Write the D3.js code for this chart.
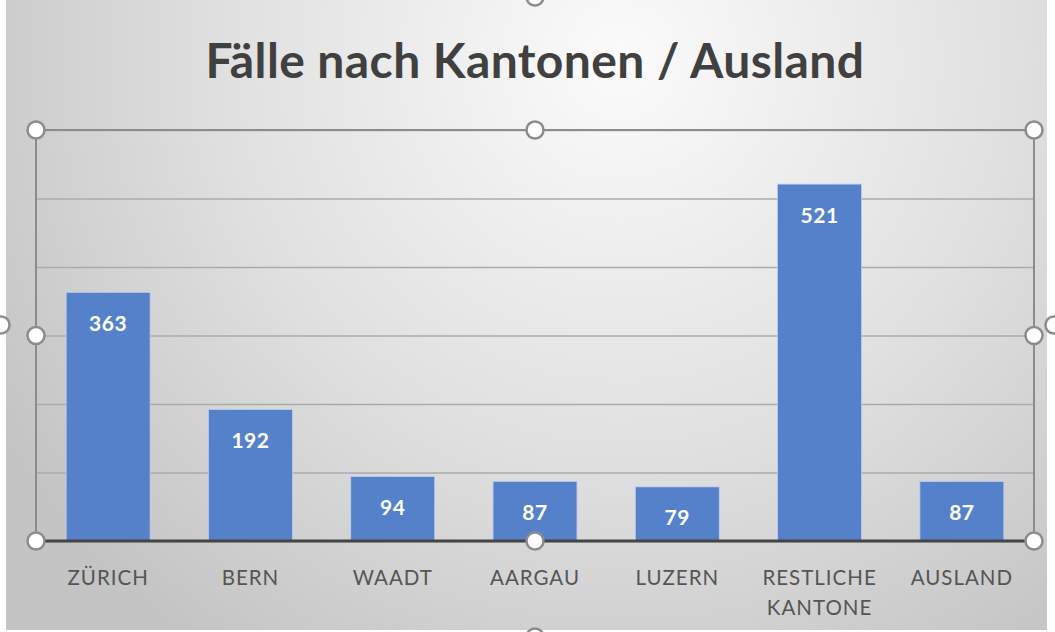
<!DOCTYPE html>
<html>
<head>
<meta charset="utf-8">
<script src="https://cdn.jsdelivr.net/npm/d3@7"></script>
<style>
  body { margin: 0; background: #ffffff; }
  svg { display: block; }
</style>
</head>
<body>
<div id="chart"></div>
<script>
// data
var categories = ["ZÜRICH", "BERN", "WAADT", "AARGAU", "LUZERN", "RESTLICHE KANTONE", "AUSLAND"];
var cases = [363, 192, 94, 87, 79, 521, 87];
var yTicks = [0, 100, 200, 300, 400, 500, 600];

var width = 1055,
    height = 632;

// plot area (the selected frame)
var plot = { left: 37, right: 1033, top: 130, bottom: 541 };

var svg = d3.select("#chart").append("svg")
    .attr("width", width)
    .attr("height", height);

// background gradient like the office chart style
var defs = svg.append("defs");
var grad = defs.append("radialGradient")
    .attr("id", "bg")
    .attr("gradientUnits", "userSpaceOnUse")
    .attr("cx", 620).attr("cy", 60)
    .attr("r", 720);
grad.append("stop").attr("offset", "0%").attr("stop-color", "#fbfbfb");
grad.append("stop").attr("offset", "55%").attr("stop-color", "#e0e0e0");
grad.append("stop").attr("offset", "100%").attr("stop-color", "#c4c4c4");

svg.append("rect")
    .attr("x", 6).attr("y", 0)
    .attr("width", 1041).attr("height", 630)
    .attr("fill", "url(#bg)");

// title
svg.append("text")
    .attr("x", 535)
    .attr("y", 78)
    .attr("text-anchor", "middle")
    .style("font-family", "Lato, 'Open Sans', sans-serif")
    .style("font-weight", "bold")
    .style("font-size", "48px")
    .style("letter-spacing", "0.4px")
    .style("fill", "#404040")
    .text("Fälle nach Kantonen / Ausland");

// scales
var x = d3.scaleBand()
    .domain(categories)
    .range([plot.left, plot.right])
    .paddingInner(0.41)
    .paddingOuter(0.205);

var y = d3.scaleLinear()
    .domain([0, 600])
    .range([plot.bottom, plot.top]);

// gridlines
var grid = svg.append("g")
    .attr("transform", "translate(" + plot.left + ",0)")
    .call(d3.axisLeft(y).tickValues(yTicks).tickSize(-(plot.right - plot.left)).tickFormat(""));
grid.select(".domain").remove();
grid.selectAll("line")
    .attr("stroke", "#ababab")
    .attr("stroke-width", 1.3);

// bars
svg.selectAll(".bar")
    .data(cases)
    .enter()
    .append("rect")
    .attr("class", "bar")
    .attr("x", function(d, i) { return x(categories[i]); })
    .attr("y", function(d) { return y(d); })
    .attr("width", x.bandwidth())
    .attr("height", function(d) { return y(0) - y(d); })
    .attr("fill", "#5581ca")
    .attr("stroke", "#b9cdee")
    .attr("stroke-width", 0.8);

// value labels inside the bars
svg.selectAll(".val")
    .data(cases)
    .enter()
    .append("text")
    .attr("class", "val")
    .attr("x", function(d, i) { return x(categories[i]) + x.bandwidth() / 2; })
    .attr("y", function(d) { return y(d) + 33; })
    .attr("text-anchor", "middle")
    .attr("dominant-baseline", "middle")
    .style("font-family", "Lato, 'Open Sans', sans-serif")
    .style("font-weight", "bold")
    .style("font-size", "21px")
    .style("letter-spacing", "0.5px")
    .style("fill", "#ffffff")
    .text(function(d) { return d; });

// x axis, labels wrap on the space
var xAxis = svg.append("g")
    .attr("transform", "translate(0," + plot.bottom + ")")
    .call(d3.axisBottom(x).tickSize(0).tickFormat(""));
xAxis.select(".domain").remove();

xAxis.selectAll(".tick").each(function(d) {
  var words = d.split(" ");
  var t = d3.select(this).append("text")
      .attr("text-anchor", "middle")
      .style("font-family", "Lato, 'Open Sans', sans-serif")
      .style("font-size", "20.5px")
      .style("letter-spacing", "1px")
      .style("fill", "#555555");
  words.forEach(function(w, i) {
    t.append("tspan").attr("x", 0).attr("y", 44 + i * 30).text(w);
  });
});

// selection frame around the plot area
svg.append("rect")
    .attr("x", plot.left - 1).attr("y", plot.top)
    .attr("width", plot.right - plot.left + 2)
    .attr("height", plot.bottom - plot.top)
    .attr("fill", "none")
    .attr("stroke", "#8c8c8c")
    .attr("stroke-width", 2);

// baseline
svg.append("line")
    .attr("x1", plot.left - 1).attr("x2", plot.right + 1)
    .attr("y1", y(0)).attr("y2", y(0))
    .attr("stroke", "#454545")
    .attr("stroke-width", 3);

// selection handles
var midX = (plot.left + plot.right) / 2,
    midY = (plot.top + plot.bottom) / 2;
var handles = [
  [plot.left - 1, plot.top], [midX, plot.top], [plot.right + 1, plot.top],
  [plot.left - 1, midY], [plot.right + 1, midY],
  [plot.left - 1, plot.bottom], [midX, plot.bottom], [plot.right + 1, plot.bottom],
  [535, -3], [1, 325], [1054, 325], [535, 637]
];
svg.selectAll(".handle")
    .data(handles)
    .enter()
    .append("circle")
    .attr("class", "handle")
    .attr("cx", function(d) { return d[0]; })
    .attr("cy", function(d) { return d[1]; })
    .attr("r", 8.5)
    .attr("fill", "#ffffff")
    .attr("stroke", "#8c8c8c")
    .attr("stroke-width", 2.5);
</script>
</body>
</html>
